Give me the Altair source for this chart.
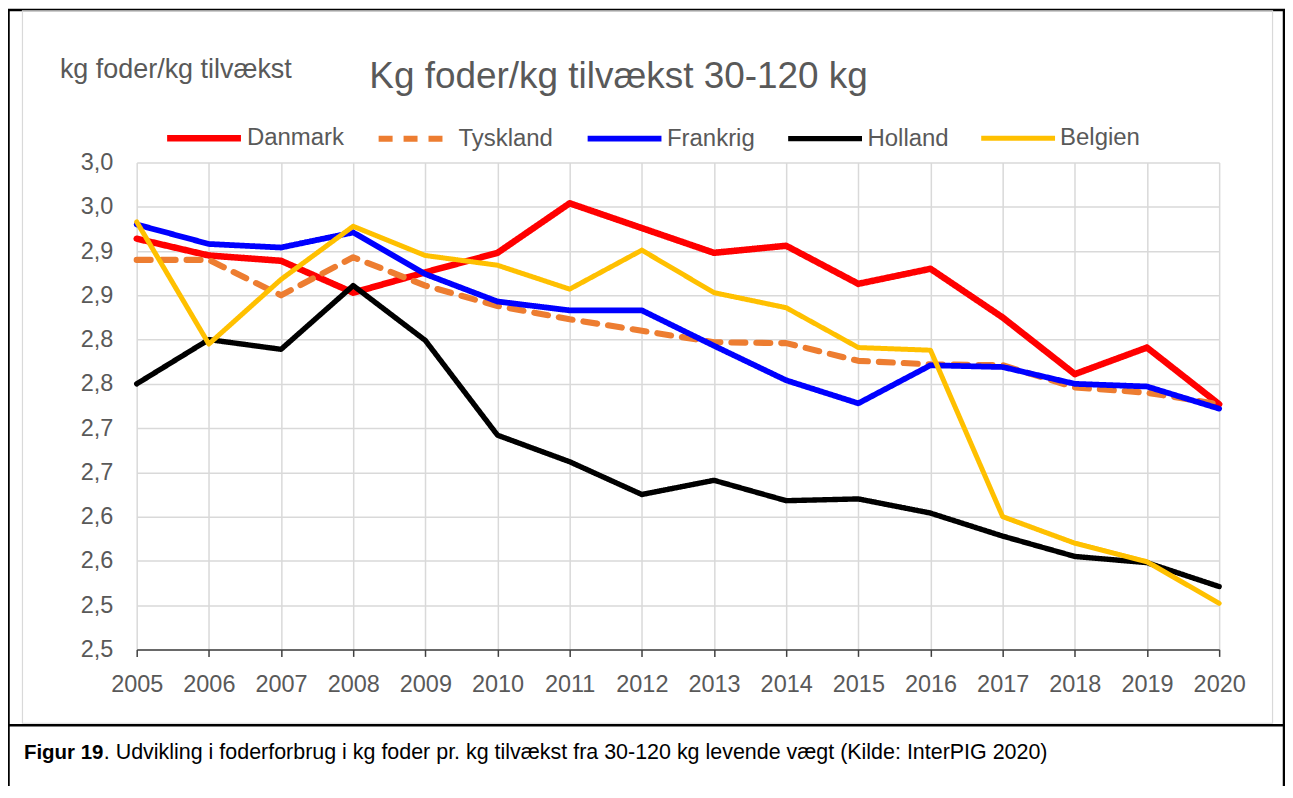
import json
import altair as alt
import pandas as pd

# ---------------- data ----------------
years = list(range(2005, 2021))
series_names = ["Danmark", "Tyskland", "Frankrig", "Holland", "Belgien"]
danmark = [2.964, 2.945, 2.939, 2.903, 2.926, 2.948, 3.004, 2.976, 2.948, 2.956, 2.913, 2.930, 2.875, 2.811, 2.841, 2.777]
tyskland = [2.940, 2.940, 2.900, 2.943, 2.911, 2.888, 2.873, 2.860, 2.847, 2.846, 2.826, 2.822, 2.821, 2.796, 2.790, 2.777]
frankrig = [2.980, 2.958, 2.954, 2.971, 2.924, 2.893, 2.883, 2.883, 2.843, 2.804, 2.778, 2.821, 2.819, 2.800, 2.797, 2.772]
holland = [2.800, 2.850, 2.839, 2.911, 2.849, 2.742, 2.712, 2.675, 2.691, 2.668, 2.670, 2.654, 2.628, 2.605, 2.598, 2.571]
belgien = [2.983, 2.845, 2.918, 2.978, 2.945, 2.934, 2.907, 2.951, 2.903, 2.886, 2.841, 2.838, 2.650, 2.620, 2.599, 2.552]

y_tick_values = [2.50, 2.55, 2.60, 2.65, 2.70, 2.75, 2.80, 2.85, 2.90, 2.95, 3.00, 3.05]
y_tick_labels = ["2,5", "2,5", "2,6", "2,6", "2,7", "2,7", "2,8", "2,8", "2,9", "2,9", "3,0", "3,0"]

title_text = "Kg foder/kg tilvækst 30-120 kg"
y_title_text = "kg foder/kg tilvækst"
caption_bold = "Figur 19"
caption_rest = ". Udvikling i foderforbrug i kg foder pr. kg tilvækst fra 30-120 kg levende vægt (Kilde: InterPIG 2020)"

series_values = [danmark, tyskland, frankrig, holland, belgien]
rows = []
for name, vals in zip(series_names, series_values):
    for yr, v in zip(years, vals):
        rows.append({"series": name, "year": yr, "value": v})
df = pd.DataFrame(rows)

# ---------------- style ----------------
W, H = 1085, 488
FONT = "Liberation Sans"
GREY = "#595959"
GRID = "#D9D9D9"
series_colors = ["#FF0000", "#ED7D31", "#0000FF", "#000000", "#FFC000"]
series_dashes = [[1, 0], [14, 11], [1, 0], [1, 0], [1, 0]]
series_widths = [6.5, 5, 5.5, 4.5, 4.5]

label_expr = json.dumps(y_tick_labels) + "[round((datum.value - 2.5) / 0.05)]"

legend = alt.Legend(
    title=None, orient="none", legendX=27, legendY=-65, direction="horizontal",
    symbolType="stroke", symbolSize=5476, symbolStrokeWidth=7,
    labelFont=FONT, labelFontSize=24, labelColor=GREY, labelOffset=2.5,
    columnPadding=22, padding=0,
)

lines = alt.Chart(df).mark_line(strokeJoin="round", strokeCap="round").encode(
    x=alt.X("year:Q", title=None,
            scale=alt.Scale(domain=[2005, 2020], nice=False, zero=False),
            axis=alt.Axis(values=years, format="d", grid=True, gridColor=GRID, gridWidth=1.5,
                          domain=True, domainColor="#404040", domainWidth=1.5,
                          ticks=True, tickColor="#404040", tickSize=7, tickWidth=1.5,
                          labelFont=FONT, labelFontSize=23.5, labelColor=GREY, labelPadding=16,
                          labelFlush=False, labelOverlap=False)),
    y=alt.Y("value:Q", title=None,
            scale=alt.Scale(domain=[2.5, 3.05], nice=False, zero=False),
            axis=alt.Axis(values=y_tick_values, labelExpr=label_expr, grid=True, gridColor=GRID,
                          gridWidth=1.5, domain=False, ticks=False,
                          labelFont=FONT, labelFontSize=23.5, labelColor=GREY, labelPadding=24,
                          labelOverlap=False)),
    color=alt.Color("series:N", sort=series_names,
                    scale=alt.Scale(domain=series_names, range=series_colors), legend=legend),
    strokeDash=alt.StrokeDash("series:N", sort=series_names,
                              scale=alt.Scale(domain=series_names, range=series_dashes), legend=legend),
    strokeWidth=alt.StrokeWidth("series:N", sort=series_names,
                                scale=alt.Scale(domain=series_names, range=series_widths), legend=None),
)

one = pd.DataFrame({"k": [0]})

outer = alt.Chart(one).mark_rect(filled=False, stroke="black", strokeWidth=2.5).encode(
    x=alt.value(-128.5), x2=alt.value(1150), y=alt.value(-153), y2=alt.value(700))
inner = alt.Chart(one).mark_rect(filled=False, stroke=GRID, strokeWidth=1.2).encode(
    x=alt.value(-114.5), x2=alt.value(1138.5), y=alt.value(-152), y2=alt.value(562))
sep = alt.Chart(one).mark_rule(color="black", strokeWidth=2.5).encode(
    x=alt.value(-128.5), x2=alt.value(1150), y=alt.value(564))

y_title = alt.Chart(one).mark_text(text=y_title_text, align="left", baseline="alphabetic",
                                   font=FONT, fontSize=27, color=GREY).encode(
    x=alt.value(-77), y=alt.value(-84.7))
main_title = alt.Chart(one).mark_text(text=title_text, align="center", baseline="alphabetic",
                                      font=FONT, fontSize=37, color=GREY).encode(
    x=alt.value(483), y=alt.value(-74.7))
cap1 = alt.Chart(one).mark_text(text=caption_bold, align="left", baseline="alphabetic",
                                font=FONT, fontSize=20.5, fontWeight="bold", color="black").encode(
    x=alt.value(-113), y=alt.value(597.5))
cap2 = alt.Chart(one).mark_text(text=caption_rest, align="left", baseline="alphabetic",
                                font=FONT, fontSize=21.5, color="black").encode(
    x=alt.value(-33), y=alt.value(597.5))

chart = alt.layer(outer, inner, sep, lines, y_title, main_title, cap1, cap2).properties(
    width=W, height=H, autosize="none",
    padding={"left": 129, "top": 154, "right": 66, "bottom": 136},
    background="white",
).configure_view(strokeWidth=0)

chart.save("out.html", embed_options={"renderer": "svg", "actions": False})
